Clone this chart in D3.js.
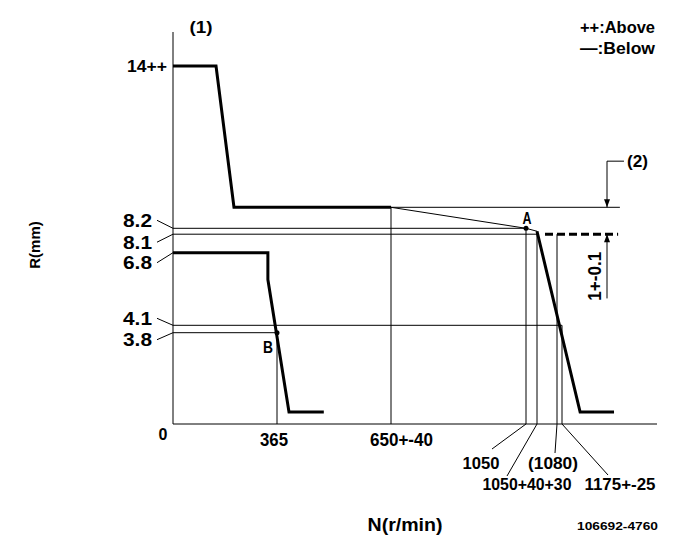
<!DOCTYPE html>
<html><head><meta charset="utf-8">
<script src="https://cdn.jsdelivr.net/npm/d3@7/dist/d3.min.js"></script>
<style>
html,body{margin:0;padding:0;background:#fff;}
text{font-family:"Liberation Sans",Arial,sans-serif;font-weight:bold;fill:#000;}
</style></head>
<body><svg id="c" width="685" height="549"></svg>
<script>
// ---- data (schematic governor characteristic, N in r/min, R in mm) ----
const yTickValues = [0, 3.8, 4.1, 6.8, 8.1, 8.2, 14];
const yTickLabels = ["0", "3.8", "4.1", "6.8", "8.1", "8.2", "14++"];
const xTickValues = [365, 650, 1050, 1070, 1080, 1175];
const xTickLabels = ["365", "650+-40", "1050", "1050+40+30", "(1080)", "1175+-25"];
// schematic (non-linear) axis knots
const yKnots = [0, 3.8, 4.1, 6.8, 8.1, 8.2, 9.1, 14, 15.2];
const xKnots = [0, 365, 650, 1050, 1070, 1080, 1175, 1500];
// curves
const upperN = [0, 151, 214, 650];
const upperR = [14, 14, 9.1, 9.1];
const slopeN = [650, 1050, 1070];
const slopeR = [9.1, 8.2, 8.15];
const droopN = [1070, 1237, 1353];
const droopR = [8.15, 0.5, 0.5];
const lowerN = [0, 333, 333, 395, 482];
const lowerR = [6.8, 6.8, 5.8, 0.5, 0.5];
const pointA = {n: 1050, r: 8.2, label: "A"};
const pointB = {n: 365, r: 3.8, label: "B"};
const upperLevel = 9.1, dashLevel = 8.1;

// ---- scales ----
const x = d3.scaleLinear().domain(xKnots).range([173, 277, 391, 526, 537, 557, 562, 657]);
const y = d3.scaleLinear().domain(yKnots).range([424, 332.7, 325.3, 252.7, 234.2, 228.3, 207.3, 66, 32]);

const svg = d3.select("#c");
const g = svg.append("g");
const line = d3.line().x(d => x(d[0])).y(d => y(d[1]));
function path(pts, w, dash) {
  const p = g.append("path").attr("d", line(pts)).attr("fill", "none")
    .attr("stroke", "#000").attr("stroke-width", w).attr("stroke-linejoin", "miter");
  if (dash) p.attr("stroke-dasharray", dash);
  return p;
}
function txt(px, py, str, size, len, anchor, rot) {
  const t = svg.append("text").attr("text-anchor", anchor || "middle")
    .attr("dominant-baseline", "central").attr("font-size", size).text(str);
  if (rot) t.attr("transform", `translate(${px},${py}) rotate(${rot})`);
  else t.attr("x", px).attr("y", py);
  if (len) t.attr("textLength", len).attr("lengthAdjust", "spacingAndGlyphs");
  return t;
}
const zip = (a, b) => a.map((v, i) => [v, b[i]]);

// axes
path([[0, 0], [0, yKnots[yKnots.length - 1]]], 1);
path([[0, 0], [xKnots[xKnots.length - 1], 0]], 1);

// thin reference lines
path([[0, 8.2], [1050, 8.2]], 1);
path([[0, 8.1], [1070, 8.1]], 1);
path([[0, 4.1], [1175, 4.1]], 1);
path([[0, 3.8], [365, 3.8]], 1);
path([[650, upperLevel], [1373, upperLevel]], 1);
path([[365, 0], [365, 3.8]], 1);
path([[650, 0], [650, upperLevel]], 1);
path([[1050, 0], [1050, 8.2]], 1);
path([[1070, 0], [1070, 8.15]], 1);
path([[1080, 0], [1080, 8.1]], 1);
path([[1175, 0], [1175, 4.1]], 1);

// dashed level
path([[1074, dashLevel], [1367, dashLevel]], 3, "8,4");

// curves
path(zip(upperN, upperR), 3);
path(zip(slopeN, slopeR), 1);
path(zip(droopN, droopR), 3);
path(zip(lowerN, lowerR), 3);

// points
[pointA, pointB].forEach(p => {
  g.append("circle").attr("cx", x(p.n)).attr("cy", y(p.r)).attr("r", 2.5).attr("fill", "#000");
});
txt(x(pointA.n) + 1, y(pointA.r) - 10, pointA.label, 17, 9);
txt(x(pointB.n) - 9, y(pointB.r) + 15, pointB.label, 17, 10);

// (2) dimension
const dimN = 1329;
path([[dimN, 10.7], [dimN, upperLevel]], 1);
path([[dimN, 10.7], [1387, 10.7]], 1);
path([[dimN, dashLevel], [dimN, 5.1]], 1);
const ax = x(dimN);
g.append("path").attr("d", `M${ax - 3},${y(upperLevel) - 8}L${ax + 3},${y(upperLevel) - 8}L${ax},${y(upperLevel)}Z`).attr("fill", "#000");
g.append("path").attr("d", `M${ax - 3},${y(dashLevel) + 8}L${ax + 3},${y(dashLevel) + 8}L${ax},${y(dashLevel)}Z`).attr("fill", "#000");
txt(x(1387) + 3, y(10.7), "(2)", 17, 21, "start");
txt(ax - 12, (y(dashLevel) + y(5.1)) / 2 + 10, "1+-0.1", 18, 49, "middle", -90);

// y tick labels with leaders
const yOff = {"3.8": 7, "4.1": -7, "6.8": 10, "8.1": 8, "8.2": -8, "14++": 0};
yTickValues.forEach((v, i) => {
  const lab = yTickLabels[i];
  if (lab === "0") {
    txt(x(0) - 10, y(0) + 10, lab, 16);
    return;
  }
  const ly = y(v) + yOff[lab];
  const isTop = lab === "14++";
  if (isTop) txt(x(0) - 26, ly, lab, 17, 40);
  else {
    txt(x(0) - 35.5, ly, lab, 19, 29);
    g.append("line").attr("x1", x(0) - 16).attr("y1", ly).attr("x2", x(0)).attr("y2", y(v))
      .attr("stroke", "#000").attr("stroke-width", 1);
  }
});

// x tick labels with leaders
const xLab = {
  "365": {dx: -3, ly: 440, len: 28, size: 18, leader: false},
  "650+-40": {dx: 10.5, ly: 440, len: 63, size: 18, leader: false},
  "1050": {dx: -45, ly: 463, len: 37, size: 17, leader: [-34, 25]},
  "1050+40+30": {dx: -10, ly: 484, len: 89, size: 17, leader: [-30, 52]},
  "(1080)": {dx: -4, ly: 463, len: 50, size: 17, leader: [-2, 29]},
  "1175+-25": {dx: 58, ly: 484, len: 71, size: 17, leader: [46, 51]}
};
xTickValues.forEach((v, i) => {
  const lab = xTickLabels[i], o = xLab[lab];
  txt(x(v) + o.dx, o.ly, lab, o.size, o.len);
  if (o.leader) {
    g.append("line").attr("x1", x(v)).attr("y1", y(0)).attr("x2", x(v) + o.leader[0]).attr("y2", y(0) + o.leader[1])
      .attr("stroke", "#000").attr("stroke-width", 1);
  }
});

// titles and legend
txt(405, 524, "N(r/min)", 19, 75);
txt(34, 245, "R(mm)", 15, null, "middle", -90);
txt(201, 27, "(1)", 17, 23);
txt(580, 27, "++:Above", 16, 75, "start");
txt(580, 48, "\u2014:Below", 16, 75, "start");
txt(658, 526, "106692-4760", 11, 81, "end");
</script></body></html>
